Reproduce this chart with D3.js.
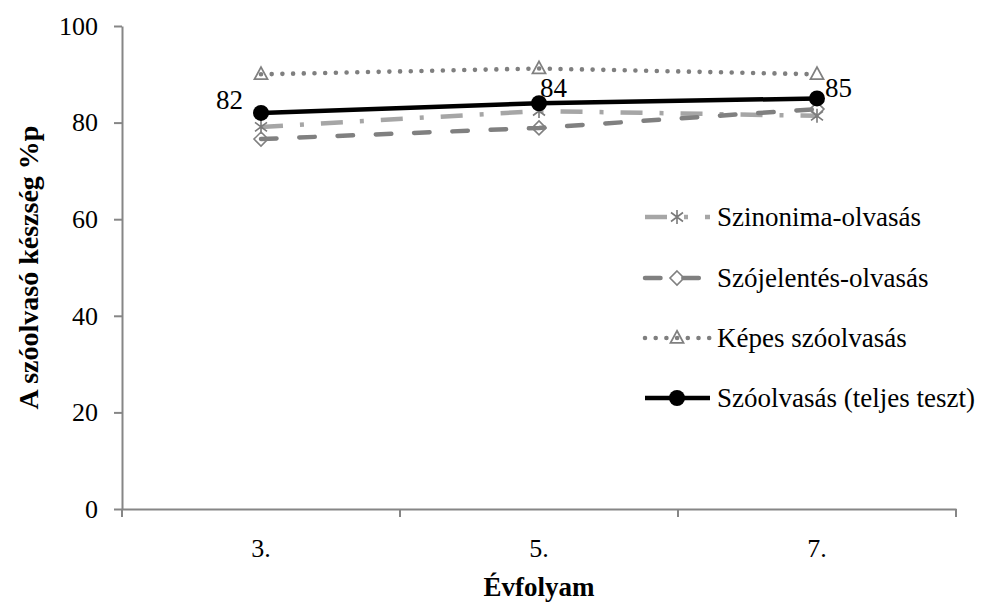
<!DOCTYPE html>
<html>
<head>
<meta charset="utf-8">
<script src="https://cdn.jsdelivr.net/npm/d3@7"></script>
<style>
  body { margin: 0; background: #fff; }
  text { font-family: "Liberation Serif", "Times New Roman", serif; fill: #000; }
</style>
</head>
<body>
<svg id="chart" width="982" height="603"></svg>
<script>
// Grades and mean word-reading skill scores (%p)
const grades = ["3.", "5.", "7."];
const szinonima = [79.1, 82.4, 81.4];
const szojelentes = [76.6, 78.9, 82.8];
const kepes = [90.0, 91.2, 90.0];
const szoolvasas = [82, 84, 85];
const yTicks = [0, 20, 40, 60, 80, 100];
const seriesNames = ["Szinonima-olvasás", "Szójelentés-olvasás", "Képes szóolvasás", "Szóolvasás (teljes teszt)"];
const yTitle = "A szóolvasó készség %p";
const xTitle = "Évfolyam";

// where each value label of the total-test line sits relative to its point
const labelPlacement = [
  { dx: -18, dy: -4, anchor: "end" },
  { dx: 1, dy: -6, anchor: "start" },
  { dx: 8, dy: -1, anchor: "start" }
];

const svg = d3.select("#chart");
svg.append("rect").attr("width", 982).attr("height", 603).attr("fill", "#fff");

const x = d3.scaleBand().domain(grades).range([122, 956]);
const y = d3.scaleLinear().domain([0, 100]).range([509, 26]);
const cx = g => x(g) + x.bandwidth() / 2;

const axisColor = "#868686";

// Y axis
const yAxis = svg.append("g")
  .attr("transform", `translate(${x.range()[0]},0)`)
  .call(d3.axisLeft(y).tickValues(yTicks).tickSize(8).tickSizeOuter(0).tickPadding(16));
yAxis.select(".domain").attr("stroke", axisColor).attr("stroke-width", 2);
yAxis.selectAll(".tick line").attr("stroke", axisColor).attr("stroke-width", 2);
yAxis.selectAll(".tick text")
  .attr("font-family", "Liberation Serif, serif").attr("font-size", 26).attr("fill", "#000");

// X axis: category labels in the middle, tick marks on the category boundaries
const xAxis = svg.append("g")
  .attr("transform", `translate(0,${y(0)})`)
  .call(d3.axisBottom(x).tickSize(0).tickSizeOuter(0).tickPadding(30));
xAxis.select(".domain").attr("stroke", axisColor).attr("stroke-width", 2);
xAxis.selectAll(".tick text")
  .attr("font-family", "Liberation Serif, serif").attr("font-size", 26).attr("fill", "#000");
const boundaries = grades.map(g => x(g)).concat([x.range()[1]]);
xAxis.selectAll(".boundary").data(boundaries).enter().append("line")
  .attr("class", "boundary")
  .attr("x1", d => d).attr("x2", d => d)
  .attr("y1", 0).attr("y2", 8)
  .attr("stroke", axisColor).attr("stroke-width", 2);

// Axis titles
svg.append("text")
  .attr("transform", `translate(38,${(y(0) + y(100)) / 2}) rotate(-90)`)
  .attr("text-anchor", "middle")
  .attr("font-size", 28).attr("font-weight", "bold")
  .text(yTitle);
svg.append("text")
  .attr("x", (x.range()[0] + x.range()[1]) / 2).attr("y", 596)
  .attr("text-anchor", "middle")
  .attr("font-size", 27).attr("font-weight", "bold")
  .text(xTitle);

// Marker shapes
function drawMarker(g, type, px, py) {
  if (type === "asterisk") {
    const s = 7, d = 6;
    const p = `M${px},${py - s}L${px},${py + s}M${px - d},${py - d * 0.75}L${px + d},${py + d * 0.75}M${px - d},${py + d * 0.75}L${px + d},${py - d * 0.75}`;
    g.append("path").attr("d", p).attr("stroke", "#7a7a7a").attr("stroke-width", 1.6).attr("fill", "none");
  } else if (type === "diamond") {
    const s = 7;
    g.append("path").attr("d", `M${px},${py - s}L${px + s},${py}L${px},${py + s}L${px - s},${py}Z`)
      .attr("stroke", "#808080").attr("stroke-width", 1.6).attr("fill", "none");
  } else if (type === "triangle") {
    const w = 6.5, h = 12;
    g.append("path").attr("d", `M${px},${py - h * 0.6}L${px + w},${py + h * 0.4}L${px - w},${py + h * 0.4}Z`)
      .attr("stroke", "#808080").attr("stroke-width", 1.8).attr("fill", "none");
  } else if (type === "circle") {
    g.append("circle").attr("cx", px).attr("cy", py).attr("r", 8).attr("fill", "#000");
  }
}

const series = [
  { name: seriesNames[0], values: szinonima, color: "#a6a6a6", width: 4.5, dash: "22,17,4,17", cap: "butt", marker: "asterisk" },
  { name: seriesNames[1], values: szojelentes, color: "#808080", width: 4.5, dash: "15.5,22.8", cap: "round", marker: "diamond" },
  { name: seriesNames[2], values: kepes, color: "#7f7f7f", width: 4.6, dash: "0,10.7", cap: "round", marker: "triangle" },
  { name: seriesNames[3], values: szoolvasas, color: "#000", width: 4.5, dash: null, cap: "butt", marker: "circle" }
];

const line = d3.line().x(d => cx(d.g)).y(d => y(d.v));

const plot = svg.append("g");
series.forEach(s => {
  const pts = grades.map((g, i) => ({ g, v: s.values[i] }));
  const gS = plot.append("g");
  gS.append("path").datum(pts).attr("d", line)
    .attr("fill", "none").attr("stroke", s.color).attr("stroke-width", s.width)
    .attr("stroke-dasharray", s.dash).attr("stroke-linecap", s.cap);
  pts.forEach(p => drawMarker(gS, s.marker, cx(p.g), y(p.v)));
});

// Value labels of the total test
svg.append("g").selectAll("text").data(szoolvasas).enter().append("text")
  .attr("x", (d, i) => cx(grades[i]) + labelPlacement[i].dx)
  .attr("y", (d, i) => y(d) + labelPlacement[i].dy)
  .attr("text-anchor", (d, i) => labelPlacement[i].anchor)
  .attr("font-size", 27)
  .text(d => d3.format("d")(d));

// Legend
const legendRows = [217, 278, 338, 398];
const legend = svg.append("g");
series.forEach((s, i) => {
  const ly = legendRows[i];
  legend.append("line")
    .attr("x1", 645).attr("x2", 710).attr("y1", ly).attr("y2", ly)
    .attr("stroke", s.color).attr("stroke-width", s.width)
    .attr("stroke-dasharray", s.dash).attr("stroke-linecap", s.cap);
  drawMarker(legend, s.marker, 677, ly);
  legend.append("text")
    .attr("x", 717).attr("y", ly).attr("dy", "0.35em")
    .attr("font-size", 27)
    .text(s.name);
});
</script>
</body>
</html>
